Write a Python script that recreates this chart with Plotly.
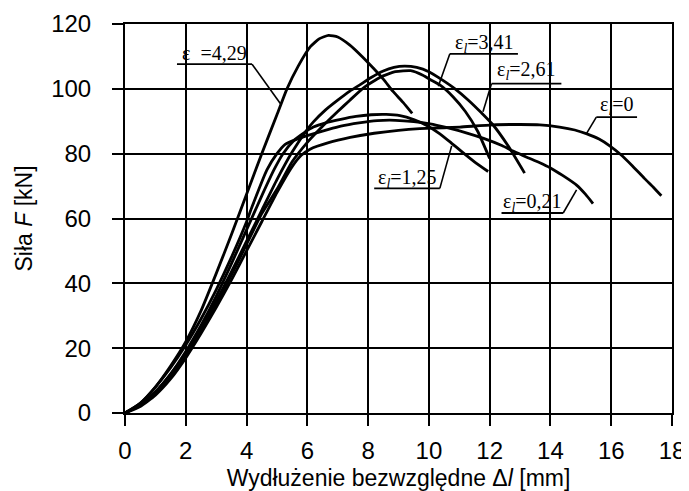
import plotly.graph_objects as go

# ---- data ----
x_tick_vals = [0, 2, 4, 6, 8, 10, 12, 14, 16, 18]
y_tick_vals = [0, 20, 40, 60, 80, 100, 120]

eps429_x = [0, 0.5, 1, 1.5, 2, 2.5, 3, 3.5, 4, 4.5, 5, 5.33, 5.7, 6.1, 6.4, 6.7, 7.0, 7.4, 7.8, 8.16, 8.5, 8.82, 9.15, 9.45]
eps429_F = [0, 3, 8, 14.5, 22, 31.5, 43, 55, 67.5, 80, 92, 100, 107, 113, 115.5, 116.5, 116, 113.5, 110, 106.5, 103, 99.2, 95.8, 92.4]

eps341_x = [0, 0.5, 1, 1.5, 2, 2.5, 3, 3.5, 4, 4.5, 5, 5.5, 6, 6.42, 7, 7.4, 7.85, 8.4, 8.9, 9.4, 9.8, 10.04, 10.36, 10.8, 11.2, 11.6, 12]
eps341_F = [0, 2.3, 6, 11, 17.5, 25, 33.5, 42.5, 52, 61.5, 69, 77.5, 83.5, 87.7, 93, 96.5, 100.3, 103.6, 105.3, 105.6, 104.2, 102.9, 101.2, 97.5, 93, 87, 78.5]

eps261_x = [0, 0.5, 1, 1.5, 2, 2.5, 3, 3.5, 4, 4.5, 5, 5.5, 6, 6.2, 6.6, 7, 7.4, 7.74, 8.1, 8.5, 8.85, 9.2, 9.6, 10, 10.4, 10.86, 11.3, 11.73, 12.1, 12.6, 13.15]
eps261_F = [0, 2.5, 6.5, 12, 18.5, 26, 34.5, 43.5, 53, 62.5, 72, 80.5, 87.5, 89.8, 93.5, 96.5, 99.3, 101.3, 103.5, 105.5, 106.6, 107, 106.6, 105.3, 103, 100, 96.5, 92.6, 89, 82.5, 74]

eps125_x = [0, 0.5, 1, 1.5, 2, 2.5, 3, 3.5, 4, 4.5, 4.9, 5.2, 5.55, 5.9, 6.2, 6.6, 7.1, 7.6, 8.1, 8.6, 9.05, 9.5, 9.93, 10.35, 10.75, 11.1, 11.5, 11.95]
eps125_F = [0, 2.5, 6.5, 12, 19, 27, 36, 46, 56.5, 67, 75, 80, 84, 86.5, 88.2, 89.5, 90.6, 91.5, 92, 92.1, 91.7, 90.5, 88.7, 86.2, 83.2, 80.5, 77.5, 74.5]

eps021_x = [0, 0.5, 1, 1.5, 2, 2.5, 3, 3.5, 4, 4.18, 4.67, 5.0, 5.27, 5.66, 6.19, 6.7, 7.1, 7.7, 8.3, 8.9, 9.5, 10.04, 10.6, 11.2, 11.8, 12.4, 12.77, 13.2, 13.65, 14, 14.4, 14.86, 15.15, 15.4]
eps021_F = [0, 3, 8, 14, 21, 29, 38, 48, 59, 63.6, 75, 80, 82.9, 84.5, 86.1, 87.5, 88.5, 89.5, 90.2, 90.3, 89.9, 89.2, 88, 86.5, 84.7, 82.5, 80.8, 79, 77.2, 75.6, 73.3, 70.3, 67.5, 64.6]

eps0_x = [0, 0.5, 1, 1.5, 2, 2.5, 3, 3.5, 4, 4.5, 5, 5.5, 5.8, 6.09, 6.7, 7.41, 8.2, 9, 9.7, 10.5, 11.02, 12.1, 13, 13.65, 14.3, 14.8, 15.2, 15.6, 15.95, 16.3, 16.7, 17.1, 17.4, 17.65]
eps0_F = [0, 2, 5.5, 10.5, 17, 24.5, 32.5, 41, 50, 59, 68, 76, 79.5, 81.4, 83.4, 85, 86.3, 87.2, 87.7, 88, 88.2, 88.9, 89, 88.9, 88.2, 87.3, 86.1, 84.5, 82.4, 79.8, 76.2, 72.3, 69.5, 67]

series = [
    ("ε_l=4,29", eps429_x, eps429_F),
    ("ε_l=3,41", eps341_x, eps341_F),
    ("ε_l=2,61", eps261_x, eps261_F),
    ("ε_l=1,25", eps125_x, eps125_F),
    ("ε_l=0,21", eps021_x, eps021_F),
    ("ε_l=0", eps0_x, eps0_F),
]

# curve labels: text, text position, underline (x0, x1, y), leader start/end (x, y)
label_texts = ["ε  =4,29", "ε<sub><i>l</i></sub>=3,41", "ε<sub><i>l</i></sub>=2,61",
               "ε<sub><i>l</i></sub>=1,25", "ε<sub><i>l</i></sub>=0,21", "ε<sub><i>l</i></sub>=0"]
label_pos = [(2.95, 111.2), (11.84, 113.9), (13.22, 105.6), (9.28, 72.3), (13.4, 65.0), (16.18, 95.0)]
underline = [(1.71, 4.18, 107.6), (10.69, 12.93, 110.8), (12.06, 14.36, 101.6),
             (8.2, 10.36, 69.3), (12.39, 14.42, 61.7), (15.51, 16.85, 91.3)]
leader_start = [(4.18, 107.6), (10.69, 110.8), (12.06, 101.6), (10.36, 69.3), (14.42, 61.7), (15.51, 91.3)]
leader_end = [(5.11, 95.5), (10.31, 100.8), (11.78, 92.9), (10.75, 82.4), (14.86, 68.8), (15.18, 86.1)]

fig = go.Figure()
for name, xs, ys in series:
    fig.add_trace(go.Scatter(x=xs, y=ys, mode="lines", name=name,
                             line=dict(color="black", width=2.8, shape="spline", smoothing=0.5),
                             showlegend=False, hoverinfo="skip"))

shapes = []
annotations = []
for txt, (tx, ty), (ux0, ux1, uy), (lx0, ly0), (lx1, ly1) in zip(label_texts, label_pos, underline, leader_start, leader_end):
    shapes.append(dict(type="line", xref="x", yref="y", x0=ux0, x1=ux1, y0=uy, y1=uy,
                       line=dict(color="black", width=1.8)))
    shapes.append(dict(type="line", xref="x", yref="y", x0=lx0, x1=lx1, y0=ly0, y1=ly1,
                       line=dict(color="black", width=1.6)))
    annotations.append(dict(x=tx, y=ty, xref="x", yref="y", text=txt, showarrow=False,
                            xanchor="center", yanchor="middle",
                            font=dict(family="Liberation Serif, Times New Roman, serif", size=20, color="black")))

axis_common = dict(showgrid=True, gridcolor="black", gridwidth=2,
                   showline=True, linecolor="black", linewidth=2, mirror=True,
                   ticks="outside", ticklen=11, tickwidth=2, tickcolor="black",
                   zeroline=False, automargin=False, ticklabeloverflow="allow",
                   tickfont=dict(family="Liberation Sans, Arial, sans-serif", size=24, color="black"))

# the page body has an 8 px margin, so the figure is sized to fill the remaining window
fig.update_layout(
    width=681, height=483,
    margin=dict(l=117, r=17, t=16, b=78),
    paper_bgcolor="white", plot_bgcolor="white",
    xaxis=dict(range=[0, 18], tickvals=x_tick_vals,
               title=dict(text="Wydłużenie bezwzględne Δ<i>l</i> [mm]", standoff=12,
                          font=dict(family="Liberation Sans, Arial, sans-serif", size=23, color="black")),
               ticklabelstandoff=4,
               **axis_common),
    yaxis=dict(range=[0, 120], tickvals=y_tick_vals,
               title=dict(text="Siła <i>F</i> [kN]", standoff=12,
                          font=dict(family="Liberation Sans, Arial, sans-serif", size=23, color="black")),
               ticklabelstandoff=16,
               **axis_common),
    shapes=shapes,
    annotations=annotations,
)

fig.write_html("out.html")
